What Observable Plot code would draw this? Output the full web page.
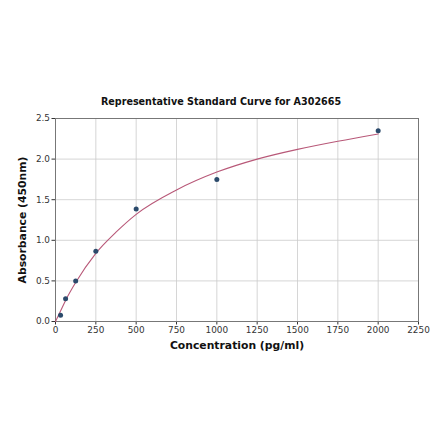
<!DOCTYPE html>
<html>
<head>
<meta charset="utf-8">
<script src="https://cdn.jsdelivr.net/npm/d3@7"></script>
<script src="https://cdn.jsdelivr.net/npm/@observablehq/plot@0.6"></script>
<style>
  body { margin: 0; background: #fff; }
</style>
</head>
<body>
<script>
// standards
const conc = [31.25, 62.5, 125, 250, 500, 1000, 2000];
const absorbance = [0.078, 0.28, 0.5, 0.865, 1.385, 1.75, 2.35];

// fitted curve, sampled by eye
const curveConc = [0, 31.25, 62.5, 125, 250, 375, 500, 750, 1000, 1250, 1500, 1750, 2000];
const curveAbs = [0, 0.13, 0.26, 0.48, 0.84, 1.1, 1.32, 1.62, 1.84, 2.0, 2.12, 2.22, 2.31];

const xTicks = [0, 250, 500, 750, 1000, 1250, 1500, 1750, 2000, 2250];
const yTicks = [0, 0.5, 1, 1.5, 2, 2.5];

const points = conc.map((c, i) => ({ c, a: absorbance[i] }));
const fit = curveConc.map((c, i) => ({ c, a: curveAbs[i] }));

const font = "DejaVu Sans, sans-serif";

const chart = Plot.plot({
  width: 440,
  height: 441,
  marginTop: 118,
  marginLeft: 55,
  marginRight: 22,
  marginBottom: 120,
  style: { fontFamily: font, fontSize: "8.9px", color: "#333", background: "#fff" },
  x: { domain: [0, 2250], ticks: xTicks, label: null, tickFormat: "d", tickSize: 3.5, tickPadding: 2 },
  y: { domain: [0, 2.5], ticks: yTicks, label: null, tickFormat: ".1f", tickSize: 3.5, tickPadding: 2 },
  marks: [
    Plot.gridX(xTicks, { stroke: "#ccc", strokeOpacity: 1, strokeWidth: 0.8 }),
    Plot.gridY(yTicks, { stroke: "#ccc", strokeOpacity: 1, strokeWidth: 0.8 }),
    Plot.frame({ stroke: "#777", strokeWidth: 1 }),
    Plot.line(fit, { x: "c", y: "a", stroke: "#b85878", strokeWidth: 1.1, curve: "monotone-x" }),
    Plot.dot(points, { x: "c", y: "a", r: 2.5, fill: "#2b4a6b" }),
    Plot.text(["Representative Standard Curve for A302665"], {
      frameAnchor: "top", dx: -16, dy: -20, fontWeight: "bold", fontSize: 9.6, fill: "#111"
    }),
    Plot.text(["Concentration (pg/ml)"], {
      frameAnchor: "bottom", dy: 27, fontWeight: "bold", fontSize: 10.8, fill: "#111"
    }),
    Plot.text(["Absorbance (450nm)"], {
      frameAnchor: "left", dx: -33, rotate: -90, textAnchor: "middle",
      fontWeight: "bold", fontSize: 10.8, fill: "#111"
    })
  ]
});

document.body.append(chart);
</script>
</body>
</html>
